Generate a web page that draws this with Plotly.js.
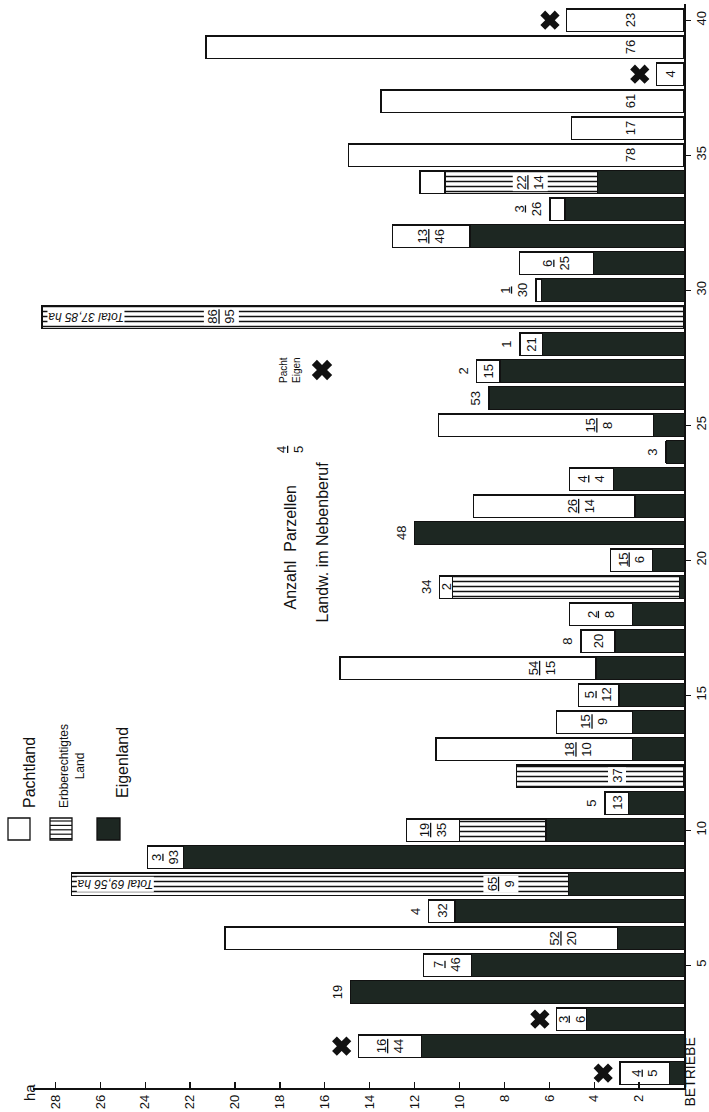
<!DOCTYPE html>
<html><head><meta charset="utf-8">
<script src="https://cdn.plot.ly/plotly-3.0.1.min.js"></script>
<style>html,body{margin:0;padding:0;background:#fff}</style>
</head><body><div id="chart" style="width:709px;height:1112px"></div>
<script>
// ---- data (ha per Betrieb) ----
const betriebe = [1,2,3,4,5,6,7,8,9,10,11,12,13,14,15,16,17,18,19,20,21,22,23,24,25,26,27,28,29,30,31,32,33,34,35,36,37,38,39,40];
const eigenland = [0.65,11.68,4.33,14.85,9.46,2.97,10.2,5.15,22.3,6.15,2.48,0,2.3,2.3,2.9,3.92,3.07,2.29,0.2,1.39,12.01,2.18,3.15,0.8,1.37,8.69,8.2,6.29,0,6.34,4.04,9.53,5.3,3.84,0,0,0,0,0,0];
const erbland   = [0,0,0,0,0,0,0,22.15,0,3.85,0,7.45,0,0,0,0,0,0,10.1,0,0,0,0,0,0,0,0,0,28.6,0,0,0,0,6.81,0,0,0,0,0,0];
const pachtland = [2.2,2.82,1.34,0,2.15,17.48,1.19,0,1.6,2.35,1.04,0,8.75,3.37,1.81,11.4,1.52,2.82,0.6,1.88,0,7.2,1.96,0,9.57,0,1.03,1.01,0,0.25,3.29,3.45,0.67,1.11,14.95,5.0,13.5,1.22,21.3,5.22];
// Anzahl Parzellen: Pacht / Eigen
const parzPacht = [4,16,3,null,7,52,4,65,3,19,5,37,18,15,5,54,8,2,34,15,null,26,4,null,15,null,2,1,86,1,6,13,3,22,78,17,61,4,76,23];
const parzEigen = [5,44,6,19,46,20,32,9,93,35,13,null,10,9,12,15,20,8,2,6,48,14,4,3,8,53,15,21,95,30,25,46,26,14,null,null,null,null,null,null];
const labelPos  = ['in','in','in','out','in','in','box','in','in','in','box','in','in','in','in','in','box','in','box','in','out','in','in','out','in','out','box','box','end','out','in','in','out','inh','in','in','in','in','in','in'];
const nebenberuf = [1,2,3,38,40];
const gesamtBetrieb = [8,29];
const gesamtHa = ['69,56','37,85'];
const haTicks = [2,4,6,8,10,12,14,16,18,20,22,24,26,28];
const betriebTicks = [5,10,15,20,25,30,35,40];

// ---- geometry helpers (pixel -> paper) ----
const PL=33, PR=684, PT=4, PB=1088;
const xp = x => (x-PL)/(PR-PL);
const yp = y => (PB-y)/(PB-PT);
const XR = [29.0, 0];
const YR = [0.45, 40.6];
const xv = x => (PR - x)/(PR-PL)*(XR[0]-XR[1]);
const yv = y => YR[0] + (PB - y)/(PB-PT)*(YR[1]-YR[0]);

const DARK = '#1d2722';
const FF = 'Liberation Sans, Arial, sans-serif';
const lblFont = {family: FF, size: 13, color: '#111'};

const traces = [
  {type:'bar', orientation:'h', y:betriebe, x:eigenland, name:'Eigenland',
   marker:{color:DARK, line:{color:'#111', width:1}}, hoverinfo:'none'},
  {type:'bar', orientation:'h', y:betriebe, x:erbland, name:'Erbberechtigtes Land',
   marker:{color:'white', line:{color:'#111', width:1.2},
     pattern:{shape:'-', fgcolor:'#111', bgcolor:'white', size:5, solidity:0.3}}, hoverinfo:'none'},
  {type:'bar', orientation:'h', y:betriebe, x:pachtland, name:'Pachtland',
   marker:{color:'white', line:{color:'#111', width:1.3}}, hoverinfo:'none'}
];

const totals = betriebe.map((b,i)=>eigenland[i]+erbland[i]+pachtland[i]);
traces.push({type:'scatter', mode:'markers', cliponaxis:false,
  x: nebenberuf.map(b=>totals[b-1]+0.75), y: nebenberuf,
  marker:{symbol:'x', size:17, color:'#111'}, hoverinfo:'none'});
// legend cross
traces.push({type:'scatter', mode:'markers', cliponaxis:false,
  x:[xv(322)], y:[yv(370)], marker:{symbol:'x', size:18, color:'#111'}, hoverinfo:'none'});

const annotations = [];
betriebe.forEach((b,i)=>{
  const e=eigenland[i], h=erbland[i], w=pachtland[i], tot=totals[i];
  const p=parzPacht[i], q=parzEigen[i];
  const txt = (p!=null && q!=null) ? `<u>${p}</u><br>${q}` : String(p!=null?p:q);
  const pos = labelPos[i];
  const base = {y:b, textangle:-90, showarrow:false, font:lblFont};
  if (pos==='in' || pos==='inh') {
    let start, len, hat;
    if (pos==='inh' || (w===0 && h>0)) {start=e; len=h; hat=true;} else {start=e+h; len=w; hat=false;}
    annotations.push(Object.assign({}, base, {x:start+Math.min(len/2, hat?3.0:2.4), text:txt,
      bgcolor: hat?'white':'rgba(0,0,0,0)', borderpad:1}));
  } else if (pos==='out') {
    annotations.push(Object.assign({}, base, {x:tot, xanchor:'right', xshift:-4, text:txt}));
  } else if (pos==='box') {
    annotations.push(Object.assign({}, base, {x:e+h+w/2, text:String(q)}));
    annotations.push(Object.assign({}, base, {x:tot, xanchor:'right', xshift:-4, text:String(p)}));
  } else if (pos==='end') {
    annotations.push(Object.assign({}, base, {x:tot-8.0, text:txt, bgcolor:'white', borderpad:1}));
  }
});
gesamtBetrieb.forEach((b,k)=>{
  annotations.push({x:totals[b-1], y:b, xanchor:'left', xshift:5, textangle:180, showarrow:false,
    text:`<i>Total ${gesamtHa[k]} ha</i>`, font:{family:FF, size:12, color:'#111'}, bgcolor:'white', borderpad:0});
});

// static texts (paper coords)
const P = (x,y,text,size,extra) => Object.assign({xref:'paper', yref:'paper', x:xp(x), y:yp(y), text,
  textangle:-90, showarrow:false, font:{family:FF, size, color:'#111'}}, extra||{});
annotations.push(P(19,1103,'ha',15));
annotations.push(P(699,1109,'BETRIEBE',14,{yanchor:'bottom'}));
annotations.push(P(19,810,'Pachtland',16,{yanchor:'bottom'}));
annotations.push(P(55,810,'Erbberechtigtes<br>Land',12,{yanchor:'bottom'}));
annotations.push(P(112,800,'Eigenland',16,{yanchor:'bottom'}));
annotations.push(P(290,612,'Anzahl  Parzellen',16,{yanchor:'bottom'}));
annotations.push(P(290,450,'<u>4</u><br>5',13));
annotations.push(P(290,370,'Pacht<br>Eigen',10));
annotations.push(P(322,625,'Landw. im Nebenberuf',16,{yanchor:'bottom'}));

const shapes = [];
const sq = (x0,x1,fill) => ({type:'rect', xref:'paper', yref:'paper', x0:xp(x0), x1:xp(x1), y0:yp(840), y1:yp(818),
  fillcolor:fill, line:{color:'#111', width:1.3}});
shapes.push(sq(8,30,'white'));
shapes.push(sq(50,72,'white'));
for (let k=0;k<5;k++){ const yy=821+k*4.4; shapes.push({type:'line', xref:'paper', yref:'paper', x0:xp(50), x1:xp(72), y0:yp(yy), y1:yp(yy), line:{color:'#111', width:1.2}}); }
shapes.push(sq(97,120,DARK));

const layout = {
  width:709, height:1112, margin:{l:PL, r:709-PR, t:PT, b:1112-PB},
  paper_bgcolor:'white', plot_bgcolor:'white', showlegend:false, barmode:'stack', bargap:0.17,
  xaxis:{range:XR, tickvals:haTicks, ticks:'inside', ticklen:6, tickwidth:1.3, tickcolor:'#111',
    showline:true, linecolor:'#111', linewidth:1.5, tickangle:-90, showgrid:false, zeroline:false,
    tickfont:{family:FF, size:13, color:'#111'}, automargin:false, fixedrange:true},
  yaxis:{range:YR, side:'right', tickvals:betriebTicks, ticks:'outside', ticklen:5, tickwidth:1.3, tickcolor:'#111',
    showline:true, linecolor:'#111', linewidth:1.5, tickangle:-90, showgrid:false, zeroline:false,
    tickfont:{family:FF, size:13, color:'#111'}, automargin:false, fixedrange:true},
  annotations, shapes
};
Plotly.newPlot('chart', traces, layout, {staticPlot:true});
</script></body></html>
